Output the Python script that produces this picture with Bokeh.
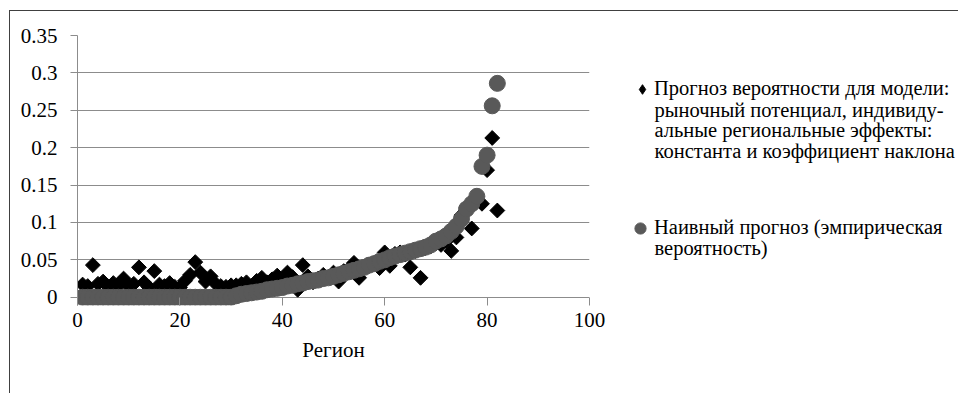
import math
from bokeh.plotting import figure
from bokeh.layouts import row
from bokeh.models import Range1d, FixedTicker, Legend, LegendItem, Label
from bokeh.embed import file_html
from bokeh.resources import INLINE

# ---------------- data ----------------
regions = list(range(1, 83))

model_forecast = [
    0.017, 0.015, 0.043, 0.018, 0.021, 0.014, 0.019, 0.016, 0.025, 0.015,
    0.018, 0.040, 0.020, 0.013, 0.035, 0.017, 0.015, 0.019, 0.014, 0.013,
    0.022, 0.030, 0.047, 0.033, 0.021, 0.028, 0.018, 0.015, 0.014, 0.016,
    0.016, 0.018, 0.020, 0.015, 0.022, 0.026, 0.020, 0.024, 0.029, 0.022,
    0.033, 0.027, 0.010, 0.043, 0.028, 0.020, 0.025, 0.030, 0.027, 0.033,
    0.021, 0.035, 0.038, 0.046, 0.026, 0.040, 0.042, 0.046, 0.039, 0.060,
    0.042, 0.058, 0.060, 0.057, 0.040, 0.062, 0.026, 0.066, 0.068, 0.072,
    0.070, 0.075, 0.062, 0.080, 0.110, 0.120, 0.092, 0.130, 0.125, 0.170,
    0.213, 0.116,
]

naive_forecast = [
    0.0, 0.0, 0.0, 0.0, 0.0, 0.0, 0.0, 0.0, 0.0, 0.0,
    0.0, 0.0, 0.0, 0.0, 0.0, 0.0, 0.0, 0.0, 0.0, 0.0,
    0.0, 0.0, 0.0, 0.0, 0.0, 0.0, 0.0, 0.0, 0.0, 0.0,
    0.002, 0.004, 0.005, 0.006, 0.007, 0.008, 0.010, 0.011, 0.012, 0.013,
    0.015, 0.016, 0.018, 0.019, 0.021, 0.022, 0.023, 0.025, 0.026, 0.028,
    0.030, 0.032, 0.034, 0.036, 0.038, 0.040, 0.043, 0.045, 0.048, 0.050,
    0.053, 0.055, 0.057, 0.059, 0.061, 0.063, 0.065, 0.067, 0.070, 0.075,
    0.078, 0.082, 0.088, 0.095, 0.105, 0.118, 0.125, 0.135, 0.175, 0.190,
    0.256, 0.286,
]

x_ticks = [0, 20, 40, 60, 80, 100]
y_ticks = [0, 0.05, 0.1, 0.15, 0.2, 0.25, 0.3, 0.35]
y_tick_labels = ["0", "0.05", "0.1", "0.15", "0.2", "0.25", "0.3", "0.35"]

x_title = "Регион"
legend_model_lines = ["Прогноз вероятности для модели:",
                      "рыночный потенциал, индивиду-",
                      "альные региональные эффекты:",
                      "константа и коэффициент наклона"]
legend_naive_lines = ["Наивный прогноз (эмпирическая",
                      "вероятность)"]

# ---------------- style ----------------
FONT = "Liberation Serif"
TICK_SIZE = "21px"
LEG_SIZE = "20.5px"
GRID = "#8c8c8c"
GRAY = "#595959"
BORDER = "1px solid #404040"

# ---------------- chart ----------------
p = figure(width=609, height=383,
           x_range=Range1d(0, 100), y_range=Range1d(-0.011, 0.35),
           output_backend="svg", toolbar_location=None,
           min_border_left=67, min_border_right=30,
           min_border_top=24, min_border_bottom=89)
p.margin = (10, 0, 0, 9)
p.styles = {"border-left": BORDER, "border-top": BORDER}
p.outline_line_color = None
p.background_fill_color = "white"
p.border_fill_color = "white"
p.xgrid.visible = False
p.ygrid.grid_line_color = GRID
p.ygrid.grid_line_width = 1

p.scatter(regions, model_forecast, marker="square", angle=math.pi / 4,
          size=10.5, fill_color="black", line_color="black")
p.scatter(regions, naive_forecast, marker="circle", size=16,
          fill_color=GRAY, line_color=GRAY)

xa = p.xaxis[0]
xa.ticker = FixedTicker(ticks=x_ticks)
xa.axis_line_color = None
xa.major_tick_line_color = GRID
xa.major_tick_out = 0
xa.major_tick_in = 8
xa.minor_tick_line_color = None
xa.major_label_text_font = FONT
xa.major_label_text_font_size = TICK_SIZE
xa.major_label_text_color = "black"
xa.major_label_standoff = 7
xa.axis_label = x_title
xa.axis_label_text_font = FONT
xa.axis_label_text_font_size = TICK_SIZE
xa.axis_label_text_font_style = "normal"
xa.axis_label_text_color = "black"
xa.axis_label_standoff = 8

ya = p.yaxis[0]
ya.ticker = FixedTicker(ticks=y_ticks)
ya.major_label_overrides = dict(zip(y_ticks, y_tick_labels))
ya.axis_line_color = GRID
ya.major_tick_line_color = GRID
ya.major_tick_out = 7
ya.major_tick_in = 0
ya.minor_tick_line_color = None
ya.major_label_text_font = FONT
ya.major_label_text_font_size = TICK_SIZE
ya.major_label_text_color = "black"
ya.major_label_standoff = 13

# ---------------- legend panel ----------------
q = figure(width=340, height=383, x_range=Range1d(0, 1), y_range=Range1d(0, 1),
           output_backend="svg", toolbar_location=None,
           x_axis_type=None, y_axis_type=None,
           min_border_left=0, min_border_right=0,
           min_border_top=24, min_border_bottom=89)
q.margin = (10, 0, 0, 0)
q.styles = {"border-top": BORDER}
q.outline_line_color = None
q.grid.visible = False
q.background_fill_color = "white"
q.border_fill_color = "white"

nan = float("nan")
leg_d = q.scatter(x=[nan], y=[nan], marker="diamond", fill_color="black", line_color="black")
leg_c = q.scatter(x=[nan], y=[nan], marker="circle", fill_color=GRAY, line_color=GRAY)

def make_legend(label, rend, loc, gsize):
    lg = Legend(items=[LegendItem(label=label, renderers=[rend])], location=loc)
    lg.border_line_color = None
    lg.background_fill_alpha = 0
    lg.padding = 0
    lg.margin = 0
    lg.spacing = 0
    lg.glyph_width = gsize
    lg.glyph_height = gsize
    lg.label_standoff = 0
    lg.label_text_font = FONT
    lg.label_text_font_size = LEG_SIZE
    lg.label_text_color = "black"
    lg.label_text_baseline = "middle"
    return lg

q.add_layout(make_legend(legend_model_lines[0], leg_d, (12, 204.5), 24))
q.add_layout(make_legend(legend_naive_lines[0], leg_c, (8, 63.5), 28))

def cont_label(text, y):
    q.add_layout(Label(x=36, y=y, x_units="screen", y_units="screen", text=text,
                       text_font=FONT, text_font_size=LEG_SIZE, text_color="black",
                       text_align="left", text_baseline="middle"))

for txt, yy in zip(legend_model_lines[1:], [196, 175.5, 155]):
    cont_label(txt, yy)
cont_label(legend_naive_lines[1], 57.5)

layout = row(p, q, spacing=0)
open("out.html", "w").write(file_html(layout, INLINE))
